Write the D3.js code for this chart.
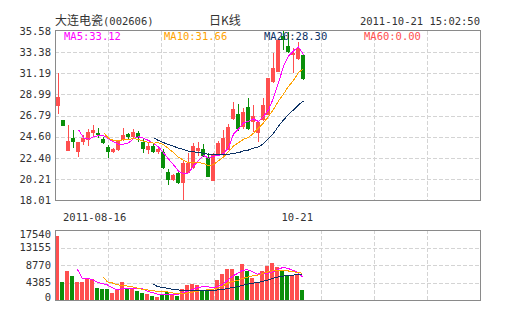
<!DOCTYPE html>
<html>
<head>
<meta charset="utf-8">
<script src="https://cdn.jsdelivr.net/npm/d3@7"></script>
<style>
  html, body { margin: 0; padding: 0; background: #fff; }
  svg { display: block; }
</style>
</head>
<body>
<svg id="chart" width="505" height="330"></svg>
<script>
// Daily K-line of 大连电瓷 (002606), one entry per trading day
const opens  = [27.78, 26.33, 23.10, 24.49, 22.95, 24.09, 24.25, 25.01, 24.97, 24.32,
                23.52, 23.03, 23.21, 24.25, 24.84, 24.59, 24.94, 24.07, 23.21, 23.62,
                23.03, 22.95, 20.95, 20.09, 20.79, 19.81, 20.79, 21.31, 23.10, 23.28,
                22.51, 20.02, 22.64, 22.69, 23.21, 26.40, 27.00, 25.60, 27.65, 26.15,
                24.95, 26.30, 26.85, 30.30, 31.35, 35.10, 34.00, 33.10, 32.64, 33.08];
const highs  = [31.21, 26.33, 25.81, 25.29, 23.99, 24.77, 25.36, 25.78, 25.50, 24.56,
                23.73, 23.45, 24.25, 25.53, 24.98, 25.39, 25.18, 24.32, 23.94, 23.83,
                23.45, 23.28, 21.20, 20.71, 20.92, 22.06, 22.90, 23.94, 24.07, 23.83,
                22.90, 22.90, 24.10, 25.29, 25.90, 28.20, 28.00, 27.60, 28.60, 27.90,
                26.20, 28.60, 30.70, 33.25, 34.70, 35.58, 35.50, 33.80, 34.45, 33.10];
const lows   = [26.95, 25.73, 23.10, 23.42, 22.51, 23.73, 23.65, 24.66, 24.46, 23.83,
                22.41, 22.86, 23.10, 24.14, 24.25, 24.46, 24.09, 22.93, 22.79, 22.90,
                22.79, 21.23, 19.57, 19.99, 19.67, 18.01, 20.79, 21.23, 22.58, 22.48,
                20.37, 19.99, 22.58, 22.58, 23.21, 26.30, 25.20, 25.40, 25.30, 25.10,
                24.00, 26.20, 26.80, 30.20, 31.30, 33.60, 33.30, 31.20, 32.60, 30.50];
const closes = [28.72, 25.73, 24.14, 24.07, 23.99, 24.46, 25.05, 25.29, 24.72, 23.97,
                22.95, 23.31, 24.14, 24.77, 24.59, 25.05, 24.42, 23.31, 23.65, 23.03,
                23.28, 21.34, 20.09, 20.61, 19.81, 21.83, 21.83, 23.62, 23.38, 22.58,
                20.43, 22.80, 23.90, 24.50, 25.60, 27.50, 25.35, 27.20, 25.40, 26.73,
                26.15, 27.90, 30.66, 31.70, 34.60, 34.60, 33.37, 33.26, 33.80, 30.56];
// Turnover in lots (手)
const volumes = [16120, 4430, 7270, 6010, 4430, 4430, 5260, 5260, 2920, 2670,
                 2670, 1750, 2670, 4430, 2670, 2700, 2260, 1750, 1500, 1000,
                 750, 1500, 2000, 1500, 1000, 2760, 3840, 4010, 3840, 2340,
                 2590, 2760, 5090, 6520, 7770, 7770, 6100, 9020, 7190, 5510,
                 4510, 7190, 8600, 9350, 8270, 7190, 6350, 6350, 6350, 2590];

const priceTicks  = [18.01, 20.21, 22.40, 24.60, 26.79, 28.99, 31.19, 33.38, 35.58];
const volumeTicks = [0, 4385, 8770, 13155, 17540];
const dateLabels  = ["2011-08-16", "10-21"];
const maPeriods   = [5, 10, 20, 60];

const titleName = "大连电瓷";
const titleCode = "(002606)";
const chartKind = "日K线";
const timestamp = "2011-10-21 15:02:50";

// ---- drawing ----
const UP = "#ff4f4f", DOWN = "#0a8f0a";
const MA_COLORS = { 5: "#ff00ff", 10: "#ffa200", 20: "#0d3366", 60: "#ff4f4f" };
const MONO = "'DejaVu Sans Mono', 'Liberation Mono', monospace";
const CJK = "'Noto Sans CJK SC', sans-serif";

const svg = d3.select("#chart");
const L = 55, R = 480;
const SLOTS = 85;
const x = d3.scaleLinear().domain([0, SLOTS]).range([L + 1, R + 1]);
const yP = d3.scaleLinear().domain([18.01, 35.58]).range([200, 31]);
const yV = d3.scaleLinear().domain([0, 17540]).range([300, 230]);
const cx = i => x(i) + 2.5;

function movingAvg(arr, p) {
  return arr.map((_, i) => i < p - 1 ? null : d3.mean(arr.slice(i - p + 1, i + 1)));
}

function panel(top, bottom) {
  const g = svg.append("g");
  // dashed vertical grid, eight columns
  const xs = d3.range(1, 8).map(k => Math.round(L + (R - L) * k / 8) + 0.5);
  g.selectAll("line.v").data(xs).join("line")
    .attr("x1", d => d).attr("x2", d => d)
    .attr("y1", top).attr("y2", bottom)
    .attr("stroke", "#d4d4d4").attr("stroke-dasharray", "4,2");
  return g;
}

// price panel grid
const gP = panel(31, 200);
gP.selectAll("line.h").data(priceTicks.slice(1, -1)).join("line")
  .attr("x1", L).attr("x2", R)
  .attr("y1", d => Math.round(yP(d)) + 0.5).attr("y2", d => Math.round(yP(d)) + 0.5)
  .attr("stroke", "#d4d4d4").attr("stroke-dasharray", "4,2");

// volume panel grid
const gV = panel(230, 300);
gV.selectAll("line.h").data(volumeTicks.slice(1, -1)).join("line")
  .attr("x1", L).attr("x2", R)
  .attr("y1", d => Math.round(yV(d)) + 0.5).attr("y2", d => Math.round(yV(d)) + 0.5)
  .attr("stroke", "#d4d4d4").attr("stroke-dasharray", "4,2");

// candles
const idx = d3.range(closes.length);
const gC = svg.append("g").attr("shape-rendering", "crispEdges");
const colorOf = i => closes[i] >= opens[i] ? UP : DOWN;
gC.selectAll("rect.wick").data(idx).join("rect")
  .attr("x", i => x(i) + 2).attr("width", 1)
  .attr("y", i => yP(highs[i]))
  .attr("height", i => Math.max(1, yP(lows[i]) - yP(highs[i])))
  .attr("fill", colorOf);
gC.selectAll("rect.body").data(idx).join("rect")
  .attr("x", i => x(i)).attr("width", 4)
  .attr("y", i => yP(Math.max(opens[i], closes[i])))
  .attr("height", i => Math.max(1, Math.abs(yP(opens[i]) - yP(closes[i]))))
  .attr("fill", colorOf);

// volume bars
gC.selectAll("rect.vol").data(idx).join("rect")
  .attr("x", i => x(i) - 1).attr("width", 4)
  .attr("y", i => yV(volumes[i]))
  .attr("height", i => yV(0) - yV(volumes[i]))
  .attr("fill", colorOf);

// moving averages of close and of volume
const lineP = d3.line().defined(d => d.v != null).x(d => cx(d.i)).y(d => yP(d.v));
const lineV = d3.line().defined(d => d.v != null).x(d => cx(d.i) - 1).y(d => yV(d.v));
const maLast = {};
maPeriods.forEach(p => {
  const mp = movingAvg(closes, p);
  const last = mp[mp.length - 1];
  maLast[p] = last == null ? 0 : last;
  if (last == null) return;
  svg.append("path").datum(mp.map((v, i) => ({ i, v })))
    .attr("d", lineP).attr("fill", "none").attr("shape-rendering", "crispEdges")
    .attr("stroke", MA_COLORS[p]).attr("stroke-width", 1);
  const mv = movingAvg(volumes, p);
  svg.append("path").datum(mv.map((v, i) => ({ i, v })))
    .attr("d", lineV).attr("fill", "none").attr("shape-rendering", "crispEdges")
    .attr("stroke", MA_COLORS[p]).attr("stroke-width", 1);
});

// frames
[[30.5, 170], [230.5, 70]].forEach(([y0, h]) => {
  svg.append("rect").attr("x", L + 0.5).attr("y", y0).attr("width", R - L).attr("height", h)
    .attr("fill", "none").attr("stroke", "#8a8a8a").attr("stroke-width", 1);
});

// axis labels
const txt = (sel) => sel.attr("font-family", MONO).attr("font-size", 10.5).attr("fill", "#333");
svg.append("g").selectAll("text").data(priceTicks).join("text")
  .call(txt).attr("x", 51).attr("text-anchor", "end")
  .attr("y", d => yP(d)).attr("dy", "0.36em")
  .text(d => d3.format(".2f")(d));
svg.append("g").selectAll("text").data(volumeTicks).join("text")
  .call(txt).attr("x", 51).attr("text-anchor", "end")
  .attr("y", d => Math.min(297, Math.max(234, yV(d)))).attr("dy", "0.36em")
  .text(d => d);

// date labels under the price panel
svg.append("text").call(txt).attr("x", x(0) + 7).attr("y", 221).text(dateLabels[0]);
svg.append("text").call(txt).attr("x", x(closes.length - 1) + 12).attr("y", 221)
  .attr("text-anchor", "end").text(dateLabels[1]);

// MA legend
maPeriods.forEach((p, k) => {
  svg.append("text").call(txt).attr("x", 64 + 100 * k).attr("y", 40)
    .attr("fill", MA_COLORS[p])
    .text(`MA${p}:${maLast[p].toFixed(2)}`);
});

// header
const title = svg.append("text").attr("x", 55).attr("y", 25).attr("fill", "#333");
title.append("tspan").attr("font-family", CJK).attr("font-size", 12).text(titleName);
title.append("tspan").attr("font-family", MONO).attr("font-size", 10.5).text(titleCode);
svg.append("text").attr("x", 225).attr("y", 25).attr("text-anchor", "middle")
  .attr("font-family", CJK).attr("font-size", 12).attr("fill", "#333").text(chartKind);
svg.append("text").call(txt).attr("x", 480).attr("y", 25).attr("text-anchor", "end").text(timestamp);
</script>
</body>
</html>
